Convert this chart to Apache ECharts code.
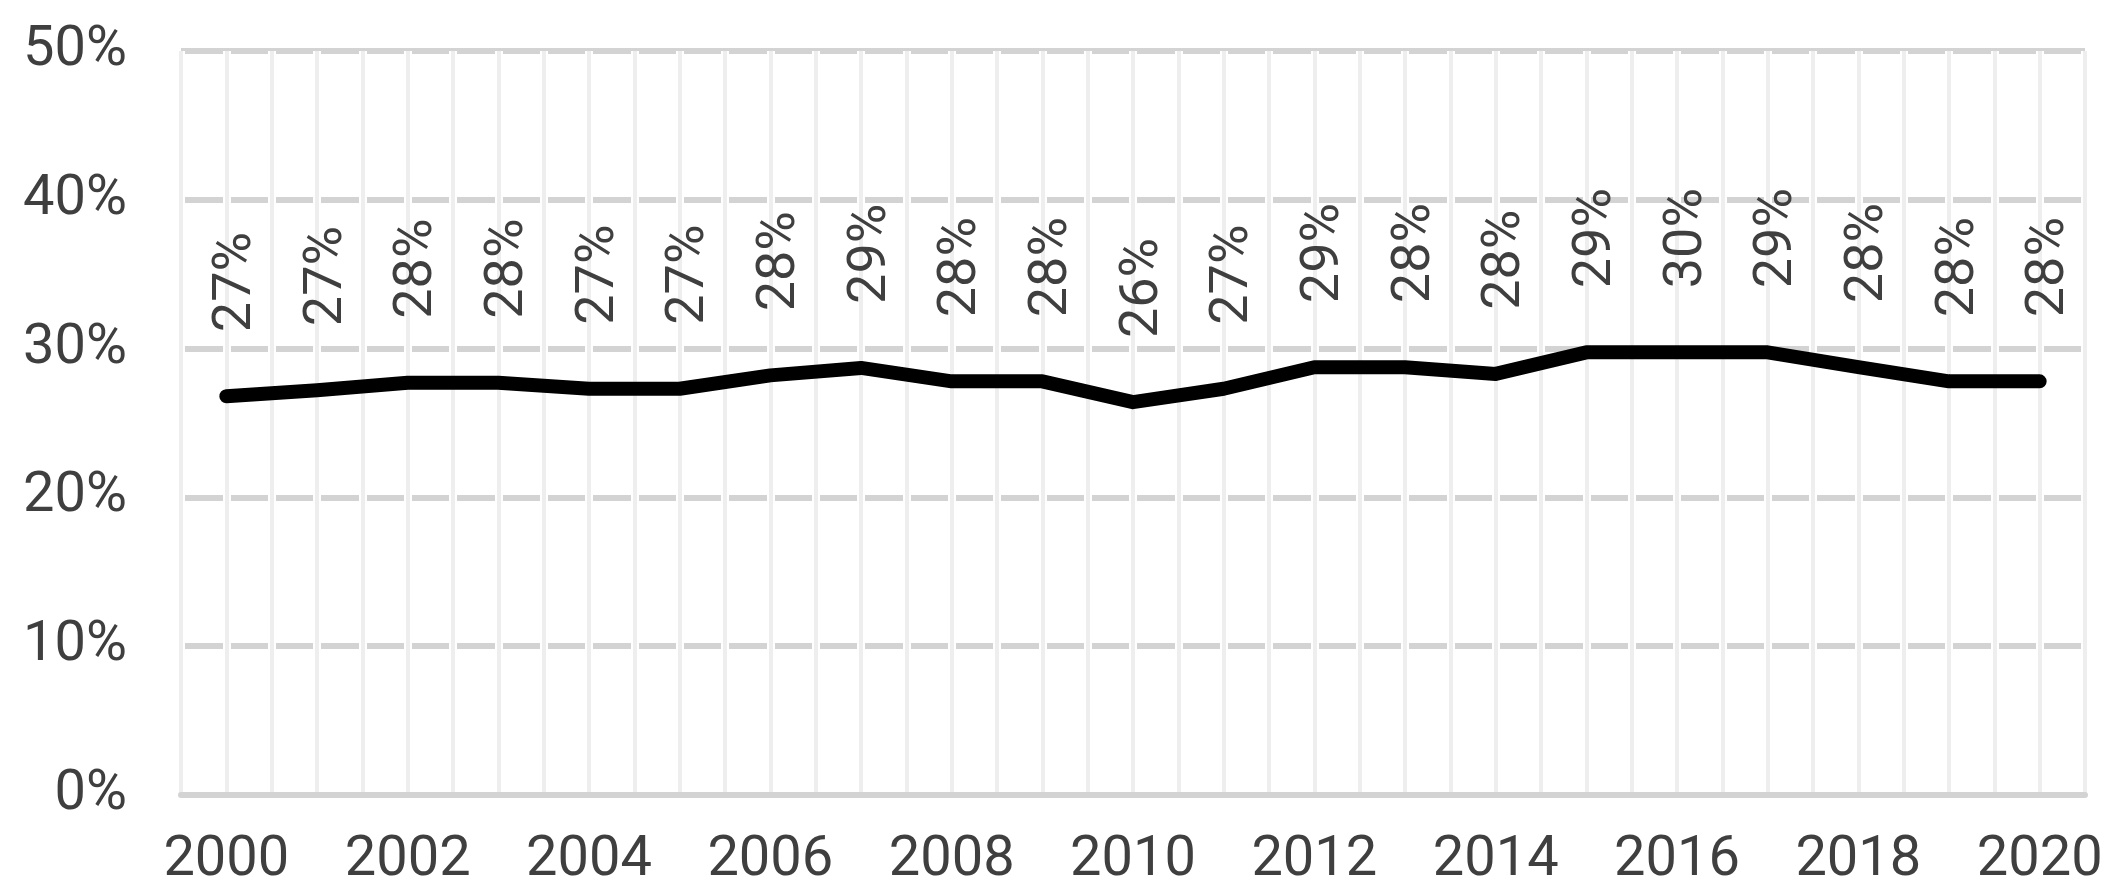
<!DOCTYPE html>
<html>
<head>
<meta charset="utf-8">
<script src="https://cdn.jsdelivr.net/npm/echarts@6/dist/echarts.min.js"></script>
<style>
  html, body { margin: 0; padding: 0; background: #fff; }
  #chart { width: 2115px; height: 889px; }
</style>
</head>
<body>
<div id="chart"></div>
<script>
const years = ['2000', '2001', '2002', '2003', '2004', '2005', '2006', '2007', '2008', '2009', '2010',
  '2011', '2012', '2013', '2014', '2015', '2016', '2017', '2018', '2019', '2020']
const shareValues = [26.8, 27.2, 27.7, 27.7, 27.3, 27.3, 28.2, 28.7, 27.8, 27.8, 26.4,
  27.3, 28.75, 28.75, 28.3, 29.75, 29.75, 29.75, 28.75, 27.8, 27.8]
const shareLabels = ['27%', '27%', '28%', '28%', '27%', '27%', '28%', '29%', '28%', '28%', '26%',
  '27%', '29%', '28%', '28%', '29%', '30%', '29%', '28%', '28%', '28%']
const yTicks = [0, 10, 20, 30, 40, 50]

const textColor = '#3f3f3f'
const font = 'Roboto'

// helper value axes only draw the vertical grid (every half category)
const gridAxis = (color, width, z) => ({
  type: 'value',
  min: -0.5,
  max: 20.5,
  interval: 0.5,
  position: 'top',
  axisLine: { show: false },
  axisTick: { show: false },
  axisLabel: { show: false },
  splitLine: { show: true, lineStyle: { color: color, width: width } },
  z: z
})

const chart = echarts.init(document.getElementById('chart'))
chart.setOption({
  animation: false,
  grid: { left: 181, right: 30, top: 51, bottom: 93 },
  xAxis: [
    {
      type: 'category',
      data: years,
      boundaryGap: true,
      axisLine: { show: true, lineStyle: { color: '#d3d3d3', width: 6 } },
      axisTick: { show: false },
      axisLabel: { interval: 1, color: textColor, fontFamily: font, fontSize: 56, margin: 38 },
      splitLine: { show: false },
      z: 3
    },
    gridAxis('#ffffff', 8, 1),
    gridAxis('#eeeeee', 4, 1.5)
  ],
  yAxis: {
    type: 'value',
    min: yTicks[0],
    max: yTicks[yTicks.length - 1],
    interval: 10,
    axisLine: { show: false },
    axisTick: { show: false },
    axisLabel: { formatter: '{value}%', color: textColor, fontFamily: font, fontSize: 56, margin: 54 },
    splitLine: { lineStyle: { color: '#d3d3d3', width: 6 } },
    z: 0
  },
  series: [
    {
      type: 'line',
      data: shareValues,
      xAxisIndex: 0,
      symbol: 'circle',
      symbolSize: 0.1,
      z: 10,
      lineStyle: { color: '#000', width: 14, cap: 'round', join: 'round' },
      itemStyle: { color: '#000' },
      label: {
        show: true,
        position: 'top',
        distance: 64,
        rotate: 90,
        align: 'left',
        verticalAlign: 'middle',
        offset: [0, 10],
        color: textColor,
        fontFamily: font,
        fontSize: 54,
        formatter: p => shareLabels[p.dataIndex]
      }
    }
  ]
})
</script>
</body>
</html>
